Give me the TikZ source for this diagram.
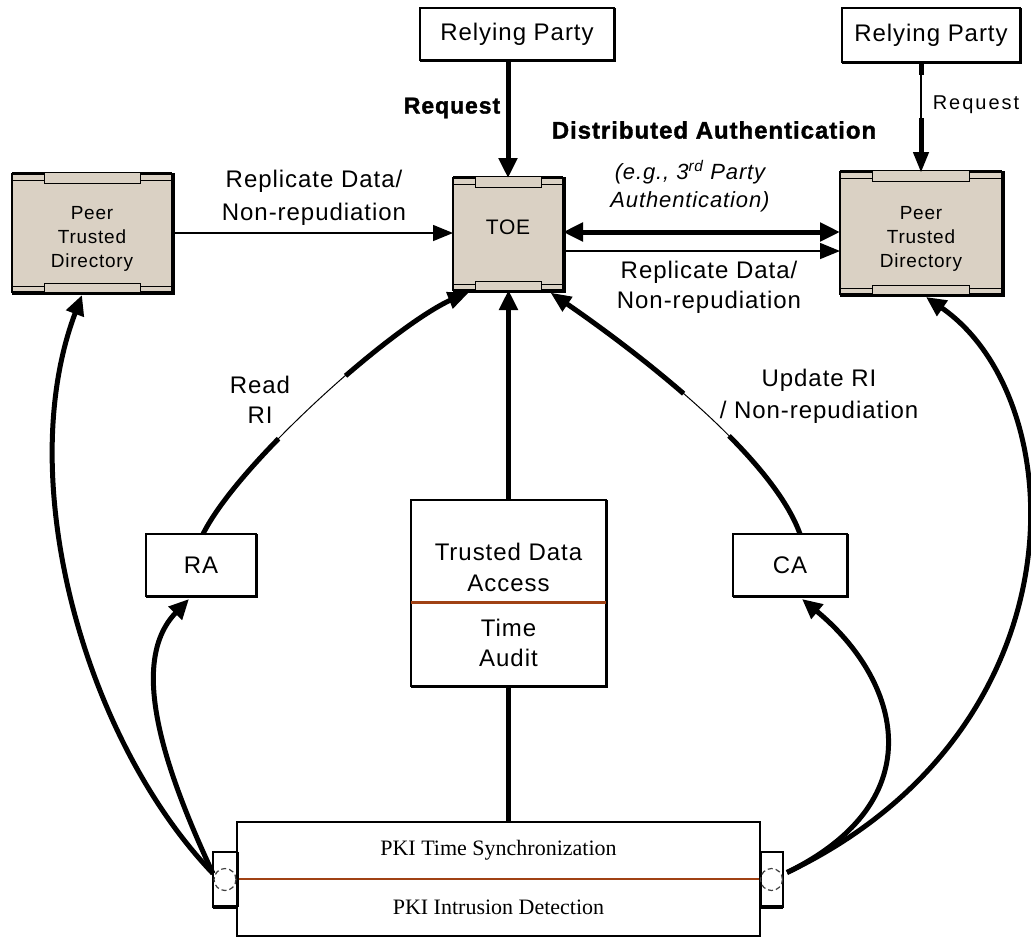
\documentclass[tikz,border=0pt]{standalone}
\usepackage{fontspec}
\setmainfont{Liberation Sans}[LetterSpace=4]
\newfontfamily\serifpki{Liberation Serif}
\newfontfamily\boldwide{Liberation Sans Bold}[LetterSpace=4,FakeBold=1.5]
\newfontfamily\reqfont{Liberation Sans}[LetterSpace=10]
\usetikzlibrary{arrows.meta,calc}
\definecolor{tanfill}{RGB}{218,209,196}
\definecolor{sepbrown}{RGB}{160,65,20}
\tikzset{
  every node/.style={inner sep=0pt, outer sep=0pt},
  plainbox/.style={draw, line width=1.6pt, fill=white, align=center},
  tanbox/.style={draw, line width=1.2pt, fill=tanfill, align=center},
  txt/.style={align=center},
  bigtip/.tip={Triangle[length=20pt,width=18pt]},
  thickarrow/.style={line width=5pt, -bigtip},
  thinarrow/.style={line width=1.5pt, -{Triangle[length=20pt,width=16pt]}},
  thickline/.style={line width=5pt},
}
\newcommand\drum[1]{%
  \draw[line width=3pt] ($(#1.north west)+(0,-0.5)$) -- ($(#1.north east)+(0,-0.5)$);
  \draw[line width=0.9pt] ($(#1.north west)+(0,6)$) -- ($(#1.north east)+(0,6)$);
  \draw[line width=0.9pt] ($(#1.south west)+(0,-6)$) -- ($(#1.south east)+(0,-6)$);
  \draw[line width=0.9pt, fill=tanfill] ($(#1.north west)!0.2!(#1.north east)+(0,-2)$) rectangle ($(#1.north west)!0.8!(#1.north east)+(0,9)$);
  \draw[line width=0.9pt, fill=tanfill] ($(#1.south west)!0.2!(#1.south east)+(0,-9)$) rectangle ($(#1.south west)!0.8!(#1.south east)+(0,1)$);
  \draw[line width=3.5pt] ($(#1.north east)+(1.5,-1)$) -- ($(#1.south east)+(1.5,1.5)$) -- ($(#1.south west)+(0,1.5)$);
}
\newcommand\boxshadow[1]{%
  \draw[line width=3pt] ($(#1.north east)+(0.8,0)$) -- ($(#1.south east)+(0.8,0.8)$) -- ($(#1.south west)+(0,0.8)$);
}
\begin{document}
\begin{tikzpicture}[x=1pt,y=-1pt,font=\fontsize{24}{31}\selectfont]
\useasboundingbox (0,0) rectangle (1031,938);

% boxes
\node[plainbox, minimum width=194pt, minimum height=52pt] (rp1) at (517,34) {Relying Party};
\boxshadow{rp1}
\node[plainbox, minimum width=178pt, minimum height=54pt] (rp2) at (931,35) {Relying Party};
\boxshadow{rp2}

\node[tanbox, minimum width=110pt, minimum height=112pt] (toe) at (508,234) {};
\drum{toe}
\node[txt, font=\fontsize{21}{25}\selectfont] (toetxt) at (508,227) {TOE};
\node[tanbox, minimum width=160pt, minimum height=118pt] (ptdL) at (92,233) {};
\drum{ptdL}
\node[txt, font=\fontsize{19}{24}\selectfont] (ptdLtxt) at (92,239) {Peer\\Trusted\\Directory};
\node[tanbox, minimum width=162pt, minimum height=122pt] (ptdR) at (921,233) {};
\drum{ptdR}
\node[txt, font=\fontsize{19}{24}\selectfont] (ptdRtxt) at (921,239) {Peer\\Trusted\\Directory};

\node[plainbox, minimum width=110pt, minimum height=62pt] (ra) at (201,565) {RA};
\boxshadow{ra}
\node[plainbox, minimum width=114pt, minimum height=62pt] (ca) at (790,565) {CA};
\boxshadow{ca}

\node[plainbox, minimum width=195pt, minimum height=102pt] (tdtop) at (508.5,551) {};
\node[plainbox, minimum width=195pt, minimum height=84pt] (tdbot) at (508.5,644) {};
\boxshadow{tdbot}
\draw[line width=3pt] ($(tdtop.north east)+(0.8,0)$) -- ($(tdtop.south east)+(0.8,0)$);
\draw[sepbrown, line width=3pt] (tdtop.south west) -- (tdtop.south east);
\node[txt] (tdtxt) at (508.5,567) {Trusted Data\\Access};
\node[txt, font=\fontsize{24}{30}\selectfont] (tatxt) at (508.5,643) {Time\\Audit};

% PKI box
\node[draw, line width=1.2pt, minimum width=523pt, minimum height=57pt, font=\serifpki\fontsize{22}{26}\selectfont] (pkitop) at (498.5,850.5) {PKI Time Synchronization};
\node[draw, line width=1.2pt, minimum width=523pt, minimum height=57pt, font=\serifpki\fontsize{22}{26}\selectfont] (pkibot) at (498.5,907.5) {PKI Intrusion Detection};
\draw[sepbrown, line width=1.5pt] (pkitop.south west) -- (pkitop.south east);

\node[draw, line width=1.4pt, fill=white, minimum width=24pt, minimum height=55pt] (lc) at (225,879.5) {};
\draw[line width=3.5pt] (lc.south west) -- (lc.south east);
\draw[line width=3pt] (lc.north east) -- (lc.south east);
\draw[dashed, dash pattern=on 5pt off 3pt, line width=1.2pt, black!75] (lc.center) circle[radius=11pt];
\node[draw, line width=1.4pt, fill=white, minimum width=23pt, minimum height=55pt] (rc) at (771.5,879.5) {};
\draw[line width=3.5pt] (rc.south west) -- (rc.south east);
\draw[line width=3pt] (rc.north west) -- (rc.south west);
\draw[dashed, dash pattern=on 5pt off 3pt, line width=1.2pt, black!75] (rc.center) circle[radius=11pt];

% straight connectors
\draw[thickarrow] (rp1.south -| toe.north) -- (toe.north);
\draw[line width=5pt, dash pattern=on 13pt off 43pt on 200pt, shorten >=14pt] (rp2.south -| ptdR.north) -- (ptdR.north);
\draw[thinarrow] (rp2.south -| ptdR.north) -- (ptdR.north);

\draw[thinarrow] (ptdL.east) -- (ptdL.east -| toe.west);
\coordinate (a1) at ($(toe.east)+(0,-2)$);
\coordinate (a2) at (a1 -| ptdR.west);
\draw[line width=5pt, bigtip-bigtip] (a1) -- (a2);
\coordinate (b1) at ($(toe.east)+(0,17)$);
\coordinate (b2) at (b1 -| ptdR.west);
\draw[thinarrow] (b1) -- (b2);

\draw[thickarrow] (tdtop.north) -- (tdtop.north |- toe.south);
\draw[thickline] (tdbot.south) -- (tdbot.south |- pkitop.north);

% curved connectors
\coordinate (lcA) at ($(lc.west)+(0,-6)$);
\coordinate (rcA) at ($(rc.east)+(4,-7)$);
\coordinate (ptdLb) at ($(ptdL.south)+(-10,3)$);
\coordinate (ptdRb) at ($(ptdR.south)+(5,3)$);
\coordinate (raB) at ($(ra.south)+(-12,3)$);
\coordinate (raT) at ($(ra.north)+(2,0)$);
\coordinate (caB) at ($(ca.south)+(12,3)$);
\coordinate (caT) at ($(ca.north)+(10,0)$);
\coordinate (toeBL) at ($(toe.south west)+(15,3)$);
\coordinate (toeBR) at ($(toe.south east)+(-12,3)$);

\draw[thickarrow] (lcA) .. controls (85,740) and (12,480) .. (ptdLb);
\draw[thickarrow] (lcA) .. controls (160,760) and (130,660) .. (raB);
\draw[thickarrow] (rcA) .. controls (935,800) and (900,680) .. (caB);
\draw[thickarrow] (rcA) .. controls (1085,730) and (1075,400) .. (ptdRb);

\draw[line width=5pt, dash pattern=on 122pt off 92pt on 300pt, shorten >=14pt] (raT) .. controls (240,460) and (400,320) .. (toeBL);
\draw[line width=1pt, -bigtip] (raT) .. controls (240,460) and (400,320) .. (toeBL);
\draw[line width=5pt, dash pattern=on 122pt off 62pt on 300pt, shorten >=14pt] (caT) .. controls (770,450) and (620,340) .. (toeBR);
\draw[line width=1pt, -bigtip] (caT) .. controls (770,450) and (620,340) .. (toeBR);

% labels
\node[font=\boldwide\fontsize{23}{27}\selectfont] (reqL) at (452,108) {Request};
\node[font=\boldwide\fontsize{24}{28}\selectfont] (dist) at (714,130) {Distributed Authentication};
\node[txt, font=\itshape\fontsize{22}{28}\selectfont] (eg) at (690,186) {(e.g., 3\textsuperscript{rd} Party\\Authentication)};
\node[font=\reqfont\fontsize{20}{24}\selectfont] (reqR) at (976,105) {Request};
\node[txt, font=\fontsize{24}{33}\selectfont] (repL) at (314,198) {Replicate Data/\\Non-repudiation};
\node[txt, font=\fontsize{24}{30}\selectfont] (repR) at (709,287) {Replicate Data/\\Non-repudiation};
\node[txt, font=\fontsize{24}{30}\selectfont] (readri) at (260,400) {Read\\RI};
\node[txt, font=\fontsize{24}{32}\selectfont] (updri) at (819,396) {Update RI\\/ Non-repudiation};
\end{tikzpicture}
\end{document}
